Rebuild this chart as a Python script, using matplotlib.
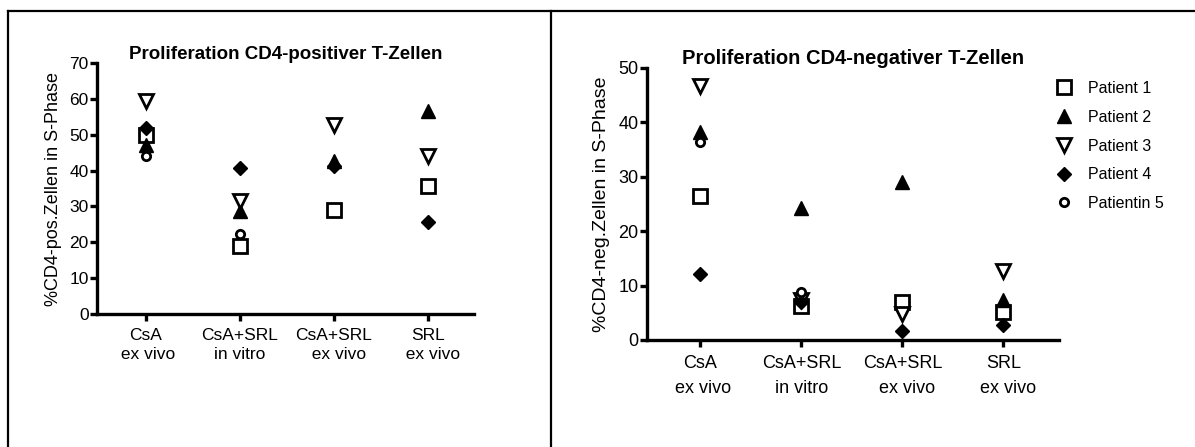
import numpy as np
import matplotlib.pyplot as plt
from matplotlib.lines import Line2D

plt.rcParams['font.family'] = ['Liberation Sans', 'DejaVu Sans']

groups = ["CsA\n ex vivo", "CsA+SRL\nin vitro", "CsA+SRL\n  ex vivo", "SRL\n  ex vivo"]
patients = ["Patient 1", "Patient 2", "Patient 3", "Patient 4", "Patientin 5"]

# % S-phase, CD4-positive T cells (one list per patient, one value per group)
pos_p1 = [50.0, 19.0, 29.0, 35.8]
pos_p2 = [47.0, 28.8, 42.8, 56.5]
pos_p3 = [59.5, 31.5, 52.8, 44.0]
pos_p4 = [51.8, 40.8, 41.2, 25.6]
pos_p5 = [44.2, 22.3, np.nan, np.nan]

# % S-phase, CD4-negative T cells
neg_p1 = [26.5, 6.2, 6.9, 5.2]
neg_p2 = [38.3, 24.3, 29.1, 7.3]
neg_p3 = [46.6, 7.4, 4.8, 12.6]
neg_p4 = [12.2, 6.9, 1.7, 2.7]
neg_p5 = [36.4, 8.9, np.nan, np.nan]

styles = [
    dict(marker='s', mfc='white', mec='black', ms=9.5, mew=2.0),
    dict(marker='^', mfc='black', mec='black', ms=9.5, mew=1),
    dict(marker='v', mfc='white', mec='black', ms=10.5, mew=2.0),
    dict(marker='D', mfc='black', mec='black', ms=7, mew=1),
    dict(marker='o', mfc='white', mec='black', ms=6, mew=2.0),
]

fig = plt.figure(figsize=(11.95, 4.47), dpi=100)

# outer frame lines
fig.add_artist(Line2D([0.0067, 0.0067], [0, 0.975], color='black', lw=1.6))
fig.add_artist(Line2D([0.0067, 1.0], [0.975, 0.975], color='black', lw=1.6))
fig.add_artist(Line2D([0.461, 0.461], [0, 0.975], color='black', lw=1.6))


def style_axes(ax, ymax, step, xlim, fs, lsp, xpad):
    for s in ['top', 'right']:
        ax.spines[s].set_visible(False)
    for s in ['left', 'bottom']:
        ax.spines[s].set_linewidth(2.4)
    ax.set_xlim(*xlim)
    ax.set_ylim(0, ymax)
    ax.set_yticks(np.arange(0, ymax + 1, step))
    ax.set_xticks(range(len(groups)))
    ax.set_xticklabels(groups, fontsize=fs, linespacing=lsp)
    ax.tick_params(axis='both', width=2.4, length=5, labelsize=fs, pad=1)
    ax.tick_params(axis='x', pad=xpad)


x = np.arange(len(groups))

ax1 = fig.add_axes([0.0812, 0.2975, 0.3155, 0.5615])
for vals, st in zip([pos_p1, pos_p2, pos_p3, pos_p4, pos_p5], styles):
    ax1.plot(x, vals, ls='none', clip_on=False, **st)
style_axes(ax1, 70, 10, (-0.52, 3.49), 12.5, 1.3, 5)
ax1.set_title("Proliferation CD4-positiver T-Zellen", fontsize=13.5,
              fontweight='bold', pad=2)
ax1.set_ylabel("%CD4-pos.Zellen in S-Phase", fontsize=13, labelpad=5)

ax2 = fig.add_axes([0.5414, 0.2394, 0.3448, 0.6085])
handles = []
for vals, st, name in zip([neg_p1, neg_p2, neg_p3, neg_p4, neg_p5], styles, patients):
    h, = ax2.plot(x, vals, ls='none', clip_on=False, label=name, **st)
    handles.append(h)
style_axes(ax2, 50, 10, (-0.53, 3.55), 13, 1.6, 6)
ax2.set_title("Proliferation CD4-negativer T-Zellen", fontsize=14.5,
              fontweight='bold', pad=2)
ax2.set_ylabel("%CD4-neg.Zellen in S-Phase", fontsize=14, labelpad=6)
ax2.legend(handles=handles, loc='upper left', bbox_to_anchor=(0.878, 0.833),
           bbox_transform=fig.transFigure, frameon=False, fontsize=11.5,
           handlelength=1.0, handletextpad=1.0, labelspacing=0.86,
           borderaxespad=0)

fig.savefig("out.png", dpi=100)
